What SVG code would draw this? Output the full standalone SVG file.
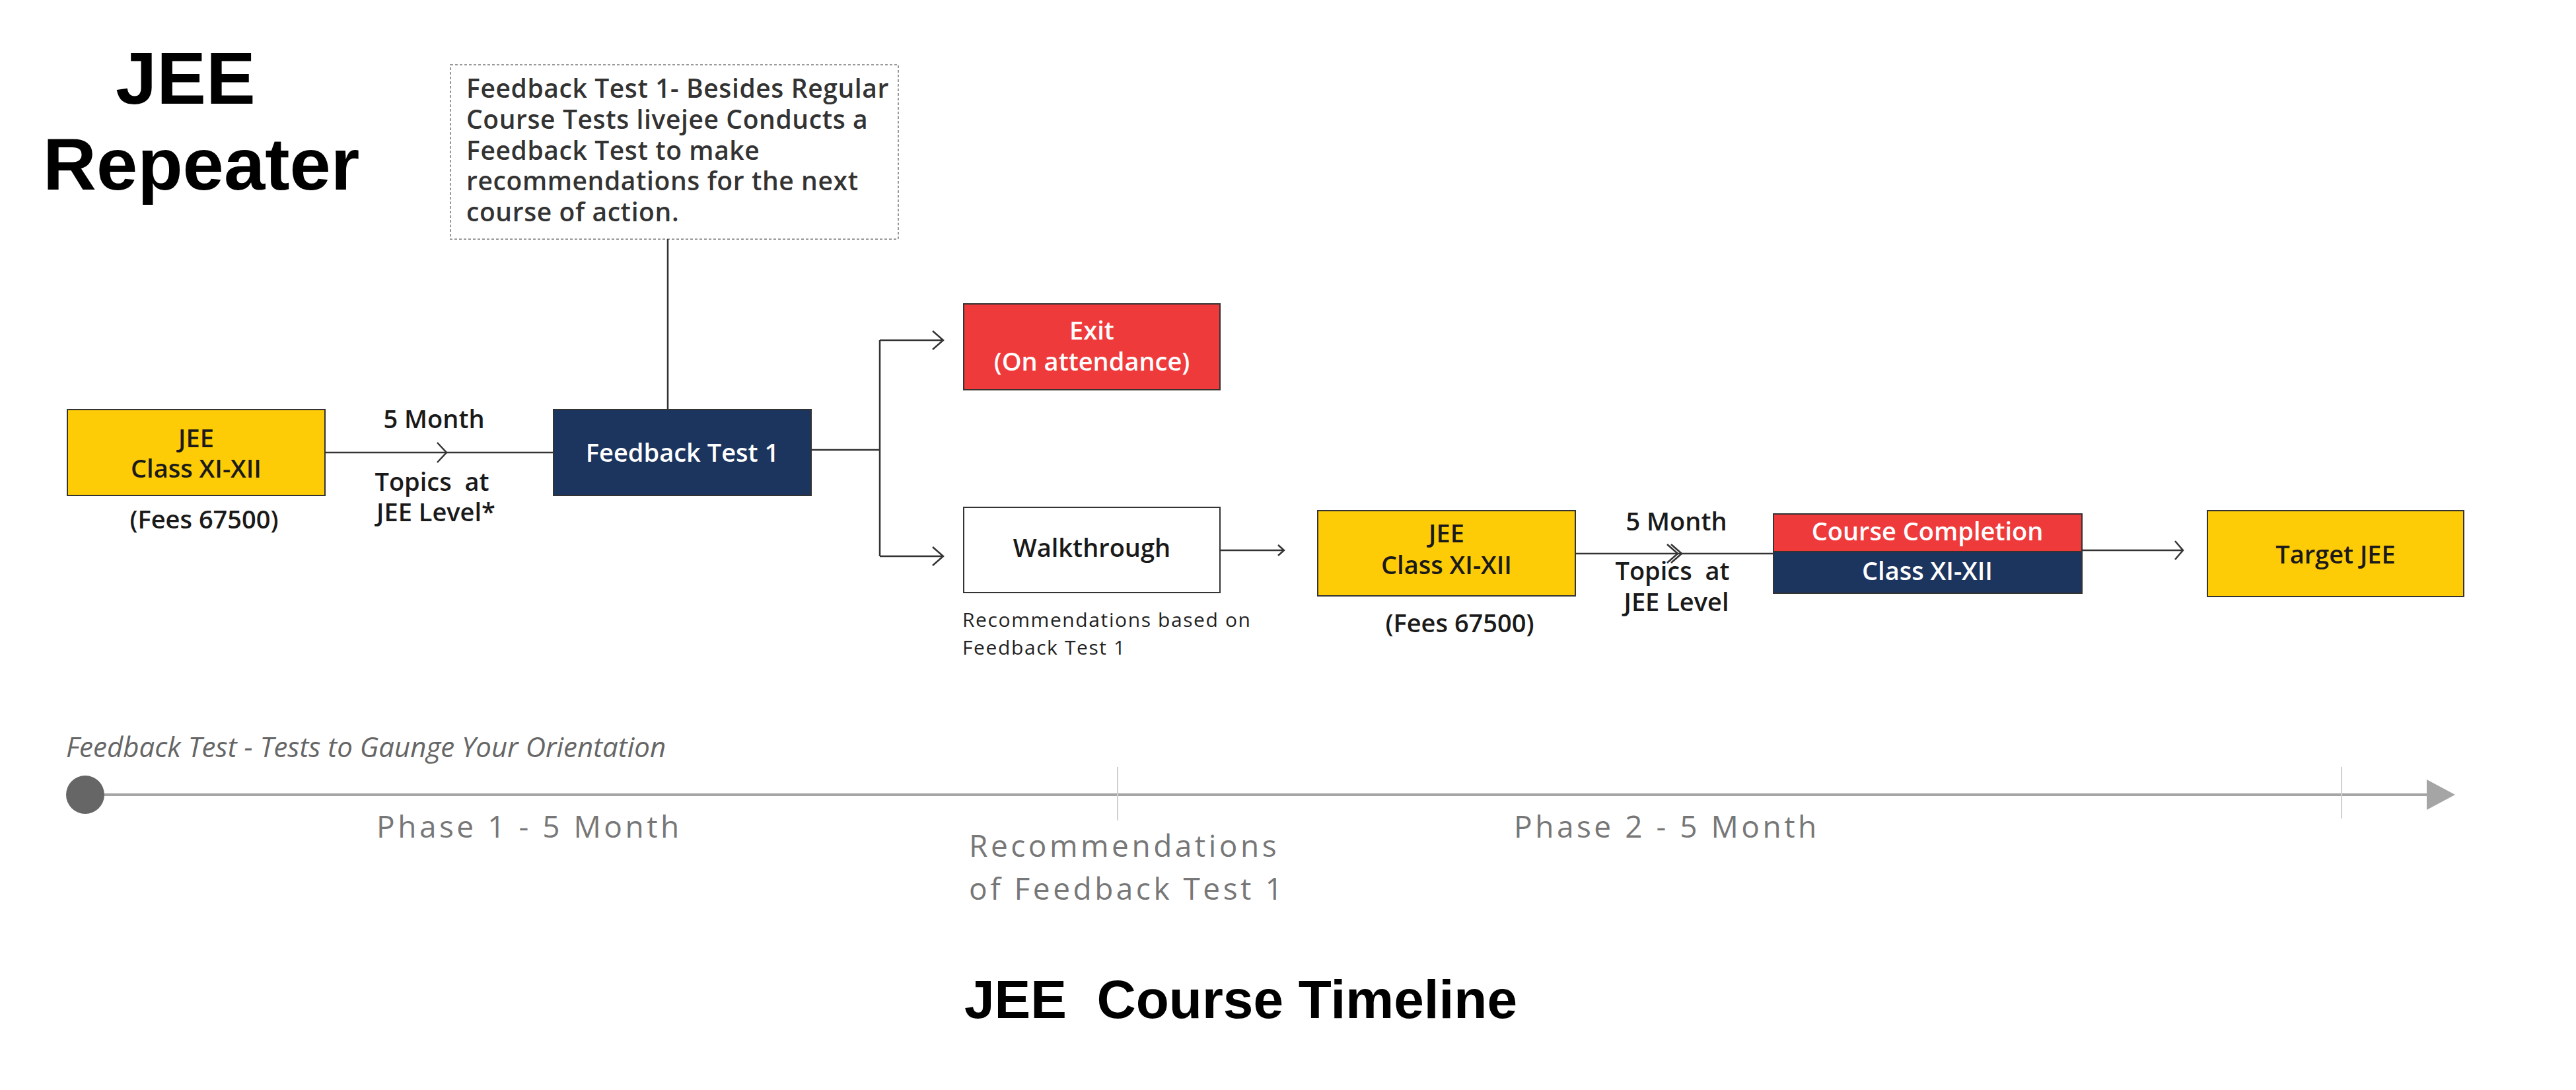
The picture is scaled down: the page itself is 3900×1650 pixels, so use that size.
<svg xmlns="http://www.w3.org/2000/svg" width="3900" height="1650" viewBox="0 0 3900 1650">
<style>
.lbl{font-family:"Open Sans","Liberation Sans",sans-serif;font-weight:600;font-size:38px;fill:#1a1a1a;text-anchor:middle}
.wht{fill:#ffffff}
.note{font-family:"Open Sans","Liberation Sans",sans-serif;font-weight:600;font-size:39px;letter-spacing:0.6px;fill:#333333}
.cap{font-family:"Open Sans","Liberation Sans",sans-serif;font-weight:400;font-size:30px;letter-spacing:1.6px;fill:#222222}
.tl{font-family:"Open Sans","Liberation Sans",sans-serif;font-weight:400;font-size:46px;letter-spacing:4.5px;fill:#777777}
.conn{fill:none;stroke:#333333;stroke-width:2.5}
.box{stroke:#333333;stroke-width:2}
</style>
<rect width="3900" height="1650" fill="#ffffff"/>
<g id="title">
<text x="175" y="157" font-family="Liberation Sans, Arial, sans-serif" font-weight="700" font-size="112" fill="#000">JEE</text>
<text x="65" y="287" font-family="Liberation Sans, Arial, sans-serif" font-weight="700" font-size="112" fill="#000">Repeater</text>
</g>
<g id="note">
<rect x="682" y="98" width="678" height="264" fill="#fff" stroke="#999" stroke-width="2" stroke-dasharray="4,3"/>
<text class="note" x="706" y="148">Feedback Test 1- Besides Regular</text>
<text class="note" x="706" y="195">Course Tests livejee Conducts a</text>
<text class="note" x="706" y="242">Feedback Test to make</text>
<text class="note" x="706" y="288">recommendations for the next</text>
<text class="note" x="706" y="335">course of action.</text>
</g>
<g id="connectors">
<path class="conn" d="M1011,362 V620"/>
<path class="conn" d="M492,685 H838"/>
<path class="conn" d="M662,670 L676,685 L662,700"/>
<path class="conn" d="M1228,681 H1332 M1332,515 V842 M1332,515 H1426 M1332,842 H1426"/>
<path class="conn" d="M1412,501 L1428,515 L1412,529 M1412,828 L1428,842 L1412,856"/>
<path class="conn" d="M1847,833 H1943"/>
<path class="conn" d="M1935,825 L1944,833 L1935,841"/>
<path class="conn" d="M2385,838 H2685"/>
<path class="conn" d="M2530,824 L2546,838 L2530,852 M2524,824 L2540,838 L2524,852" stroke-width="2"/>
<path class="conn" d="M3152,833 H3303"/>
<path class="conn" d="M3293,819 L3305,833 L3293,847"/>
</g>
<g id="jee1">
<rect class="box" x="102" y="620" width="390" height="130" fill="#FECC06"/>
<text class="lbl" x="297" y="677">JEE</text>
<text class="lbl" x="297" y="723">Class XI-XII</text>
<text class="lbl" x="309" y="800" font-size="40">(Fees 67500)</text>
</g>
<g id="label1">
<text class="lbl" x="657" y="648">5 Month</text>
<text class="lbl" x="654" y="743" xml:space="preserve">Topics  at</text>
<text class="lbl" x="660" y="789">JEE Level*</text>
</g>
<g id="feedback1">
<rect class="box" x="838" y="620" width="390" height="130" fill="#1C355E"/>
<text class="lbl wht" x="1033" y="699">Feedback Test 1</text>
</g>
<g id="exit">
<rect class="box" x="1459" y="460" width="388" height="130" fill="#EF3A3C"/>
<text class="lbl wht" x="1653" y="514">Exit</text>
<text class="lbl wht" x="1653" y="561">(On attendance)</text>
</g>
<g id="walkthrough">
<rect class="box" x="1459" y="768" width="388" height="129" fill="#ffffff"/>
<text class="lbl" x="1653" y="843">Walkthrough</text>
<text class="cap" x="1457" y="949">Recommendations based on</text>
<text class="cap" x="1457" y="991">Feedback Test 1</text>
</g>
<g id="jee2">
<rect class="box" x="1995" y="773" width="390" height="129" fill="#FECC06"/>
<text class="lbl" x="2190" y="821">JEE</text>
<text class="lbl" x="2190" y="869">Class XI-XII</text>
<text class="lbl" x="2210" y="957" font-size="40">(Fees 67500)</text>
</g>
<g id="label2">
<text class="lbl" x="2538" y="803">5 Month</text>
<text class="lbl" x="2532" y="878" xml:space="preserve">Topics  at</text>
<text class="lbl" x="2538" y="925">JEE Level</text>
</g>
<g id="completion">
<rect class="box" x="2685" y="778" width="467" height="57" fill="#EF3A3C"/>
<rect class="box" x="2685" y="835" width="467" height="63" fill="#1C355E"/>
<text class="lbl wht" x="2918" y="818">Course Completion</text>
<text class="lbl wht" x="2918" y="878">Class XI-XII</text>
</g>
<g id="target">
<rect class="box" x="3342" y="773" width="388" height="130" fill="#FECC06"/>
<text class="lbl" x="3536" y="853">Target JEE</text>
</g>
<g id="timeline">
<text x="100" y="1146" font-family="Open Sans, Liberation Sans, sans-serif" font-style="italic" font-size="42" fill="#666">Feedback Test - Tests to Gaunge Your Orientation</text>
<line x1="129" y1="1203" x2="3680" y2="1203" stroke="#A5A5A5" stroke-width="4"/>
<circle cx="129" cy="1203" r="29" fill="#666666"/>
<polygon points="3674,1180 3717,1203 3674,1226" fill="#A5A5A5"/>
<line x1="1692" y1="1161" x2="1692" y2="1242" stroke="#D0D0D0" stroke-width="2"/>
<line x1="3545" y1="1161" x2="3545" y2="1239" stroke="#D0D0D0" stroke-width="2"/>
<text class="tl" x="570" y="1268">Phase 1 - 5 Month</text>
<text class="tl" x="2292" y="1268">Phase 2 - 5 Month</text>
<text class="tl" x="1467" y="1297">Recommendations</text>
<text class="tl" x="1467" y="1362">of Feedback Test 1</text>
</g>
<g id="footer">
<text x="1460" y="1541" font-family="Liberation Sans, Arial, sans-serif" font-weight="700" font-size="82" fill="#000" xml:space="preserve">JEE  Course Timeline</text>
</g>
</svg>
